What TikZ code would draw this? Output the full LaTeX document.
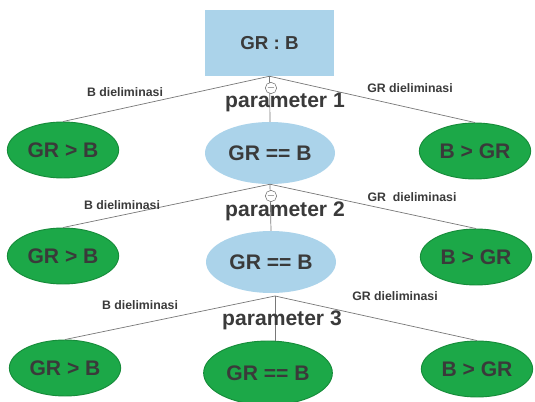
\documentclass[tikz,border=0pt]{standalone}
\usepackage{fontspec}
\setmainfont{Liberation Sans}
\definecolor{skyblue}{RGB}{171,211,234}
\definecolor{leafgreen}{RGB}{28,168,72}
\definecolor{leafedge}{RGB}{22,140,58}
\definecolor{inkgray}{RGB}{58,58,58}
\definecolor{wiregray}{RGB}{120,120,120}
\usetikzlibrary{shapes.geometric}

\begin{document}
\begin{tikzpicture}[x=0.03cm,y=-0.03cm,
    every node/.style={text=inkgray,font=\bfseries},
    wire/.style={draw=wiregray,line width=0.6pt},
    leaf/.style={ellipse,fill=leafgreen,draw=leafedge,line width=0.8pt,
        minimum width=3.3cm,minimum height=1.68cm,font=\fontsize{18}{20}\selectfont\bfseries},
    mid/.style={ellipse,fill=skyblue,minimum width=3.9cm,minimum height=1.86cm,
        font=\fontsize{18}{20}\selectfont\bfseries},
    elim/.style={font=\fontsize{10.5}{12}\selectfont\bfseries},
    param/.style={font=\fontsize{18}{20}\selectfont\bfseries},
    minus/.style={circle,draw=wiregray,fill=white,inner sep=0pt,
        minimum size=0.34cm,line width=0.5pt,font=\fontsize{9}{9}\selectfont}]
  \useasboundingbox (0,0) rectangle (535,402);

  %% Root
  \node[fill=skyblue,minimum width=3.87cm,minimum height=1.98cm,
        font=\fontsize{16}{18}\selectfont\bfseries] (root) at (269.5,43) {GR : B};

  %% Level 1
  \node[leaf] (l1) at (63,150) {GR > B};
  \node[mid]  (m1) at (270,153) {GR == B};
  \node[leaf] (r1) at (475,151) {B > GR};

  %% Level 2
  \node[leaf] (l2) at (63,256) {GR > B};
  \node[mid]  (m2) at (271,262) {GR == B};
  \node[leaf] (r2) at (476,257) {B > GR};

  %% Level 3
  \node[leaf] (l3) at (65,368) {GR > B};
  \node[leaf,minimum width=3.81cm,minimum height=1.92cm] (m3) at (268,373) {GR == B};
  \node[leaf] (r3) at (477,369) {B > GR};
  \coordinate (j3) at (275,296);

  %% Connectors
  \draw[wire] (root.south) -- (l1.north);
  \draw[wire] (root.south) -- (m1.north);
  \draw[wire] (root.south) -- (r1.north);
  \draw[wire] (m1.south) -- (l2.north);
  \draw[wire] (m1.south) -- (m2.north);
  \draw[wire] (m1.south) -- (r2.north);
  \draw[wire] (j3) -- (l3.north);
  \draw[wire] (j3) -- (j3 |- m3.north);
  \draw[wire] (j3) -- (r3.north);

  %% Minus marks
  \node[minus] (c1) at (271,88) {$-$};
  \node[minus] (c2) at (271,196) {$-$};

  %% Labels
  \node[param] (p1) at (285,102) {parameter 1};
  \node[param] (p2) at (285,211) {parameter 2};
  \node[param] (p3) at (282,320) {parameter 3};

  \node[elim] (e1l) at (125,92)  {B dieliminasi};
  \node[elim] (e1r) at (410,88)  {GR dieliminasi};
  \node[elim] (e2l) at (122,205) {B dieliminasi};
  \node[elim] (e2r) at (412,197) {GR\ \ dieliminasi};
  \node[elim] (e3l) at (140,305) {B dieliminasi};
  \node[elim] (e3r) at (395,296) {GR dieliminasi};
\end{tikzpicture}
\end{document}
